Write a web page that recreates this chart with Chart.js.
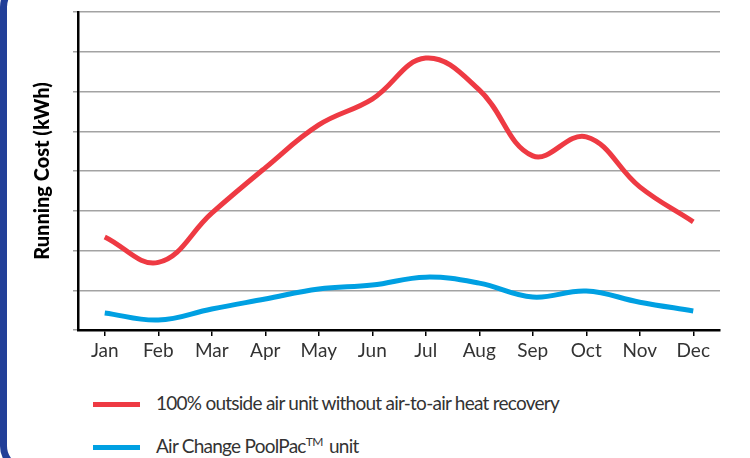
<!DOCTYPE html>
<html>
<head>
<meta charset="utf-8">
<script src="https://cdn.jsdelivr.net/npm/chart.js@4/dist/chart.umd.min.js"></script>
<style>
  body { margin: 0; width: 750px; height: 458px; overflow: hidden; background: #fff; position: relative; font-family: Lato, "Liberation Sans", sans-serif; }
  #frame { position: absolute; left: 0; top: -20px; width: 800px; height: 493px; box-sizing: border-box; border: 7px solid #223f98; border-radius: 27px; }
  #chart { position: absolute; left: 0; top: 0; }
  .swatch { position: absolute; left: 93px; width: 47px; height: 5px; }
  .label { position: absolute; left: 156px; font-size: 19px; color: #333; white-space: nowrap; line-height: 24px; letter-spacing: -0.75px; }
  .label sup { font-size: 12px; vertical-align: 7px; line-height: 0; margin-right: 2px; letter-spacing: -0.5px; }
</style>
</head>
<body>
<div id="frame"></div>
<canvas id="chart" width="750" height="372"></canvas>
<div id="legend"></div>
<script>
// chart values (one grid step = 1 unit)
const months = ["Jan", "Feb", "Mar", "Apr", "May", "Jun", "Jul", "Aug", "Sep", "Oct", "Nov", "Dec"];
const outsideAir = [2.34, 1.70, 2.94, 4.08, 5.16, 5.81, 6.84, 6.04, 4.38, 4.86, 3.60, 2.72];
const poolPac = [0.43, 0.25, 0.53, 0.78, 1.03, 1.13, 1.33, 1.18, 0.83, 0.98, 0.70, 0.48];
const seriesNames = ["100% outside air unit without air-to-air heat recovery", "Air Change PoolPac\u2122 unit"];
const seriesColors = ["#ee3a43", "#00a0e2"];
const yMin = 0;
const yMax = 8;

//legend below the chart, built as html so the TM can be raised
const legendBox = document.querySelector("#legend");
const legendTops = [404, 447];

seriesNames.forEach(function(name, i){

    const swatch = document.createElement("div");
    swatch.className = "swatch";
    swatch.style.background = seriesColors[i];
    swatch.style.top = (legendTops[i] - 2) + "px";
    legendBox.appendChild(swatch);

    const label = document.createElement("div");
    label.className = "label";
    label.style.top = (legendTops[i] - 13) + "px";
    label.innerHTML = name.replace("\u2122", "<sup>TM</sup>");
    legendBox.appendChild(label);

});

const chartCanvas = document.querySelector("#chart");

new Chart(chartCanvas, {

    type: "line",

    data: {

        labels: months,

        datasets: [
            {
                label: seriesNames[0],
                data: outsideAir,
                borderColor: seriesColors[0],
                borderWidth: 5
            },
            {
                label: seriesNames[1],
                data: poolPac,
                borderColor: seriesColors[1],
                borderWidth: 5
            }
        ]

    },

    options: {

        responsive: false,
        animation: false,

        layout: {
            padding: { top: 12, right: 30, left: 0, bottom: 0 }
        },

        elements: {
            point: { radius: 0 },
            line: { tension: 0.4, borderCapStyle: "butt" }
        },

        plugins: {
            legend: { display: false },
            tooltip: { enabled: false }
        },

        scales: {

            x: {
                offset: true,
                grid: {
                    drawOnChartArea: false,
                    drawTicks: true,
                    tickLength: 6,
                    color: "#000",
                    lineWidth: 1.5
                },
                border: { color: "#000", width: 2.5 },
                ticks: {
                    color: "#333",
                    padding: 3,
                    font: { family: "Lato", size: 19 }
                },
                afterFit: function(scale){
                    scale.height = 42;
                }
            },

            y: {
                min: yMin,
                max: yMax,
                z: 1,
                ticks: { display: false, stepSize: 1 },
                grid: {
                    color: "rgba(0,0,0,0.36)",
                    lineWidth: 1.5,
                    tickLength: 5
                },
                border: { color: "#000", width: 2.5 },
                title: {
                    display: true,
                    text: "Running Cost (kWh)",
                    color: "#000",
                    font: { family: "Lato", size: 20, weight: "900" },
                    padding: { top: 31, bottom: 0 }
                },
                afterFit: function(scale){
                    scale.width = 78;
                }
            }

        }

    }

});
</script>
</body>
</html>
